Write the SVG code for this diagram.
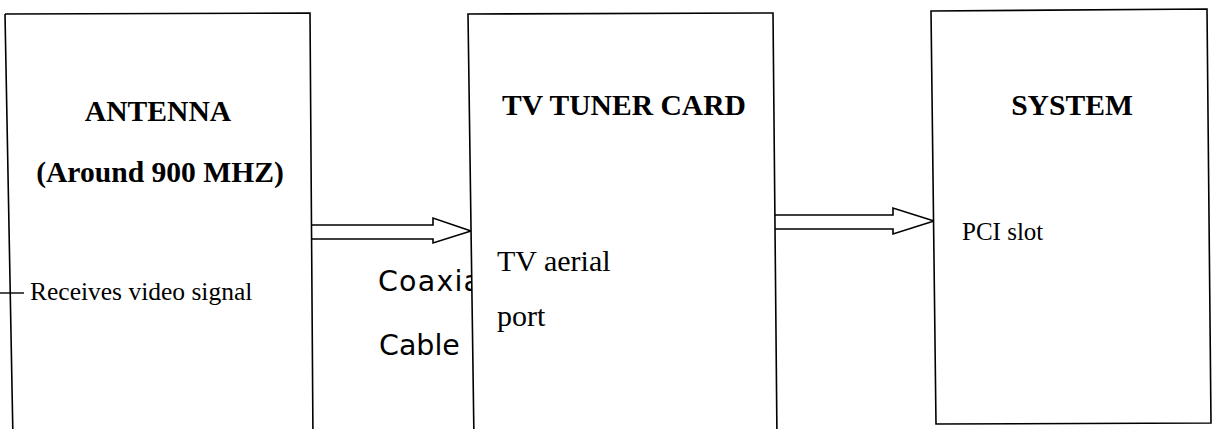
<svg xmlns="http://www.w3.org/2000/svg" width="1213" height="429" viewBox="0 0 1213 429">
<style>
.box{fill:#fff;stroke:#000;stroke-width:1.6}
.arr{fill:#fff;stroke:#000;stroke-width:1.6;stroke-linejoin:miter}
.h{font-family:"Liberation Serif","Times New Roman",serif;font-weight:bold;font-size:29.6px;fill:#000;text-anchor:middle}
.t{font-family:"Liberation Serif","Times New Roman",serif;fill:#000}
.s{font-family:"DejaVu Sans","Liberation Sans",sans-serif;font-size:28.5px;fill:#000}
</style>
<rect width="1213" height="429" fill="#fff"/>
<g id="coax-label">
<text class="s" x="378" y="291" letter-spacing="1.2">Coaxial</text>
<text class="s" x="379" y="355">Cable</text>
</g>
<g id="connectors">
<path class="arr" d="M312,225 L433,225 L433,218 L471,231 L433,243 L433,239 L312,239"/>
<path class="arr" d="M775,215 L893,215 L893,208 L934,221 L893,234 L893,229 L775,229"/>
<line x1="0" y1="293" x2="24" y2="293" stroke="#000" stroke-width="1.4"/>
</g>
<g id="antenna">
<path class="box" style="fill:none" d="M5,14 L310,13 L313,440 M5,14 L13,440"/>
<text class="h" x="158" y="121">ANTENNA</text>
<text class="h" x="160" y="182">(Around 900 MHZ)</text>
<text class="t" x="30" y="300" font-size="25.5">Receives video signal</text>
</g>
<g id="tuner">
<path class="box" d="M468,14 L773,13 L777,440 L474,440 Z"/>
<text class="h" x="624" y="115">TV TUNER CARD</text>
<text class="t" x="497" y="271" font-size="30">TV aerial</text>
<text class="t" x="497" y="326" font-size="30">port</text>
</g>
<g id="system">
<path class="box" d="M931,11 L1207,9 L1211,423 L936,424 Z"/>
<text class="h" x="1072" y="115">SYSTEM</text>
<text class="t" x="962" y="240" font-size="25">PCI slot</text>
</g>
</svg>
